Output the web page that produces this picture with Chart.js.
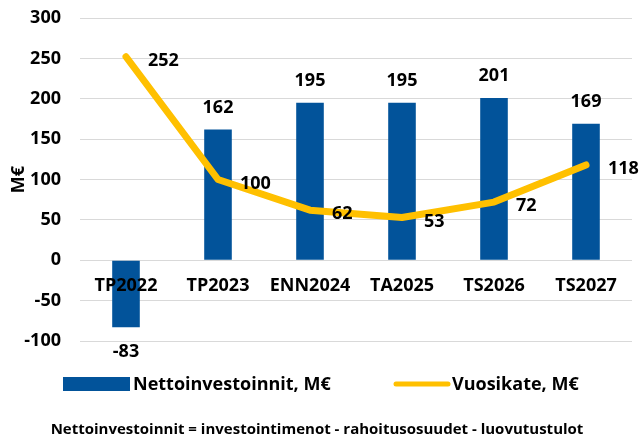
<!DOCTYPE html>
<html>
<head>
<meta charset="utf-8">
<script src="https://cdn.jsdelivr.net/npm/chart.js@4"></script>
<style>
html,body{margin:0;padding:0;background:#fff;}
#wrap{width:642px;height:443px;position:relative;}
</style>
</head>
<body>
<div id="wrap"><canvas id="c" width="642" height="443"></canvas></div>
<script>
const categories = ["TP2022","TP2023","ENN2024","TA2025","TS2026","TS2027"];
const nettoinvestoinnit = [-83,162,195,195,201,169];
const vuosikate = [252,100,62,53,72,118];
const yTicks = [-100,-50,0,50,100,150,200,250,300];
const seriesNames = ["Nettoinvestoinnit, M€","Vuosikate, M€"];
const footerText = "Nettoinvestoinnit = investointimenot - rahoitusosuudet - luovutustulot";
const yTitle = "M€";

const BAR = "#02539A";
const LINE = "#FFC000";
const FONT = "'Open Sans', 'Noto Sans', sans-serif";
const TXT = "#000000";

const labelPlugin = {
  id: 'labels',
  afterDatasetsDraw(chart) {
    const ctx = chart.ctx;
    ctx.save();
    ctx.font = "bold 18px " + FONT;
    ctx.fillStyle = TXT;
    const mb = chart.getDatasetMeta(0);
    mb.data.forEach((el, i) => {
      const v = nettoinvestoinnit[i];
      ctx.textAlign = 'center';
      ctx.textBaseline = 'middle';
      const y = v >= 0 ? el.y - 22 : el.y + 25;
      ctx.fillText(String(v), el.x, y);
    });
    const ml = chart.getDatasetMeta(1);
    ml.data.forEach((el, i) => {
      ctx.textAlign = 'left';
      ctx.textBaseline = 'middle';
      ctx.fillText(String(vuosikate[i]), el.x + 22, el.y + 4);
    });
    ctx.restore();
  },
  afterDraw(chart) {
    const ctx = chart.ctx;
    ctx.save();
    ctx.font = "bold 18px " + FONT;
    ctx.fillStyle = TXT;
    ctx.textBaseline = 'middle';
    ctx.textAlign = 'left';
    ctx.fillStyle = BAR;
    ctx.fillRect(63, 377, 67, 14);
    ctx.fillStyle = TXT;
    ctx.fillText(seriesNames[0], 133, 385);
    ctx.strokeStyle = LINE;
    ctx.lineWidth = 5;
    ctx.lineCap = 'round';
    ctx.beginPath();
    ctx.moveTo(396, 384);
    ctx.lineTo(448, 384);
    ctx.stroke();
    ctx.fillText(seriesNames[1], 452, 385);
    ctx.font = "bold 15px " + FONT;
    ctx.textAlign = 'center';
    ctx.fillText(footerText, 317, 430);
    ctx.restore();
  }
};

new Chart(document.getElementById('c'), {
  data: {
    labels: categories,
    datasets: [
      {
        type: 'bar',
        label: seriesNames[0],
        data: nettoinvestoinnit,
        backgroundColor: BAR,
        categoryPercentage: 1,
        barPercentage: 0.3,
        order: 2
      },
      {
        type: 'line',
        label: seriesNames[1],
        data: vuosikate,
        borderColor: LINE,
        borderWidth: 7,
        pointRadius: 0,
        tension: 0,
        borderCapStyle: 'round',
        borderJoinStyle: 'round',
        order: 1
      }
    ]
  },
  options: {
    responsive: false,
    animation: false,
    layout: { padding: { left: 0, right: 10, top: 18, bottom: 102 } },
    plugins: {
      legend: { display: false },
      tooltip: { enabled: false }
    },
    scales: {
      x: {
        position: { y: 0 },
        grid: { display: false, drawTicks: false },
        border: { display: false },
        afterFit(scale) { scale.paddingLeft = 0; scale.paddingRight = 0; },
        ticks: {
          z: 1,
          color: TXT,
          font: { family: FONT, size: 18, weight: 'bold' },
          padding: 15,
          maxRotation: 0,
          autoSkip: false
        }
      },
      y: {
        min: -100,
        max: 300,
        afterBuildTicks(scale) { scale.ticks = yTicks.map(v => ({ value: v })); },
        afterFit(scale) { scale.width = 80; scale.paddingTop = 0; scale.paddingBottom = 0; },
        grid: { color: '#D9D9D9', lineWidth: 1, drawTicks: false },
        border: { display: false },
        ticks: {
          color: TXT,
          font: { family: FONT, size: 18, weight: 'bold' },
          padding: 19
        },
        title: {
          display: true,
          text: yTitle,
          color: TXT,
          font: { family: FONT, size: 18, weight: 'bold' },
          padding: { top: 8, bottom: 0 }
        }
      }
    }
  },
  plugins: [labelPlugin]
});
</script>
</body>
</html>
